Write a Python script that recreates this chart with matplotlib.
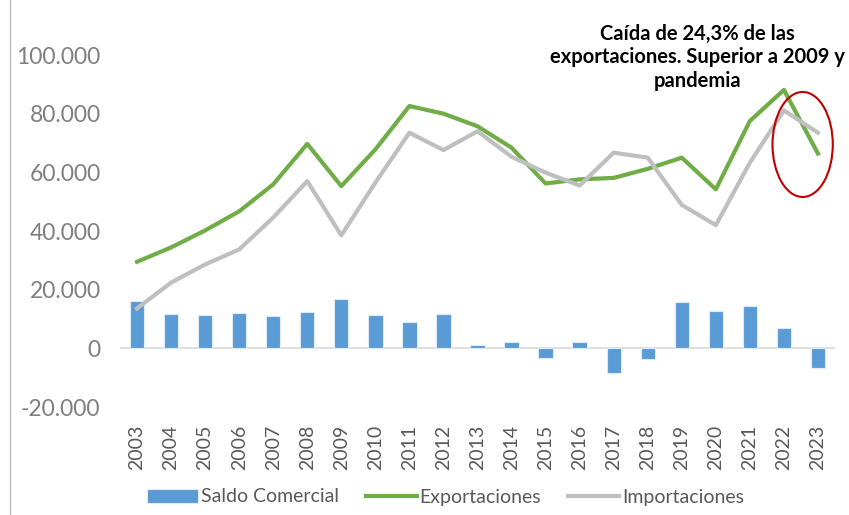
import numpy as np
import matplotlib
matplotlib.use("Agg")
import matplotlib.pyplot as plt
from matplotlib.patches import Ellipse
from matplotlib.lines import Line2D
from matplotlib.ticker import FuncFormatter

plt.rcParams['font.family'] = ['Lato', 'DejaVu Sans']

years = [str(y) for y in range(2003, 2024)]
exportaciones = [29.5, 34.4, 40.2, 46.7, 55.9, 69.7, 55.3, 67.8, 82.6, 80.0, 75.7,
                 68.4, 56.2, 57.6, 58.1, 61.2, 65.0, 54.2, 77.5, 88.1, 66.4]
importaciones = [13.6, 22.4, 28.6, 33.7, 44.6, 57.0, 38.5, 56.5, 73.5, 67.6, 74.0,
                 65.3, 59.9, 55.5, 66.7, 65.0, 48.9, 42.0, 63.3, 81.1, 73.5]
saldo = [16.0, 11.7, 11.2, 12.1, 10.9, 12.5, 16.8, 11.3, 9.1, 11.7, 1.2,
         2.2, -3.4, 2.0, -8.4, -3.6, 15.7, 12.6, 14.5, 7.1, -6.8]

# miles de millones -> millones
exportaciones = np.array(exportaciones) * 1000
importaciones = np.array(importaciones) * 1000
saldo = np.array(saldo) * 1000

fig = plt.figure(figsize=(8.49, 5.15), dpi=100)
ax = fig.add_axes([120 / 849, 1 - 407 / 515, 715 / 849, 352 / 515])

x = np.arange(len(years))
b = ax.bar(x, saldo, width=0.42, color='#5B9BD5', edgecolor='#DDEBF7', linewidth=0.8,
           label='Saldo Comercial', zorder=2)
l1, = ax.plot(x, exportaciones, color='#70AD47', lw=3, label='Exportaciones', zorder=3)
l2, = ax.plot(x, importaciones, color='#BFBFBF', lw=3, label='Importaciones', zorder=3)

ax.axhline(0, color='#D9D9D9', lw=1.2, zorder=1)
ax.set_xlim(-0.5, len(years) - 0.5)
ax.set_ylim(-20000, 100000)
ax.set_yticks(np.arange(-20000, 100001, 20000))
ax.yaxis.set_major_formatter(FuncFormatter(lambda v, p: f"{int(v):,}".replace(",", ".")))
ax.set_xticks(x)
ax.set_xticklabels(years, rotation=90)

for s in ax.spines.values():
    s.set_visible(False)
ax.tick_params(axis='y', length=0, pad=14, labelsize=16.5, labelcolor='#7F7F7F')
ax.tick_params(axis='x', length=0, pad=13, labelsize=14, labelcolor='#595959')

# linea vertical a la izquierda
fig.add_artist(Line2D([10 / 849, 10 / 849], [0, 1], transform=fig.transFigure,
                      color='#BFBFBF', lw=1))

# circulo rojo y nota
ax.add_patch(Ellipse((19.55, 69500), 1.77, 35800, fill=False, edgecolor='#C00000',
                     lw=1.5, zorder=4))
ax.text(16.45, 110500, "Caída de 24,3% de las\nexportaciones. Superior a 2009 y\npandemia",
        ha='center', va='top', fontsize=14.5, fontweight='bold', color='black',
        linespacing=1.2, clip_on=False)

leg = fig.legend([b, l1, l2], ['Saldo Comercial', 'Exportaciones', 'Importaciones'],
                 loc='center', bbox_to_anchor=(0.525, 1 - 497 / 515), ncol=3,
                 frameon=False, fontsize=14, handlelength=2.6, handletextpad=0.15,
                 columnspacing=1.4)
for t in leg.get_texts():
    t.set_color('#595959')

fig.savefig('out.png', dpi=100)
